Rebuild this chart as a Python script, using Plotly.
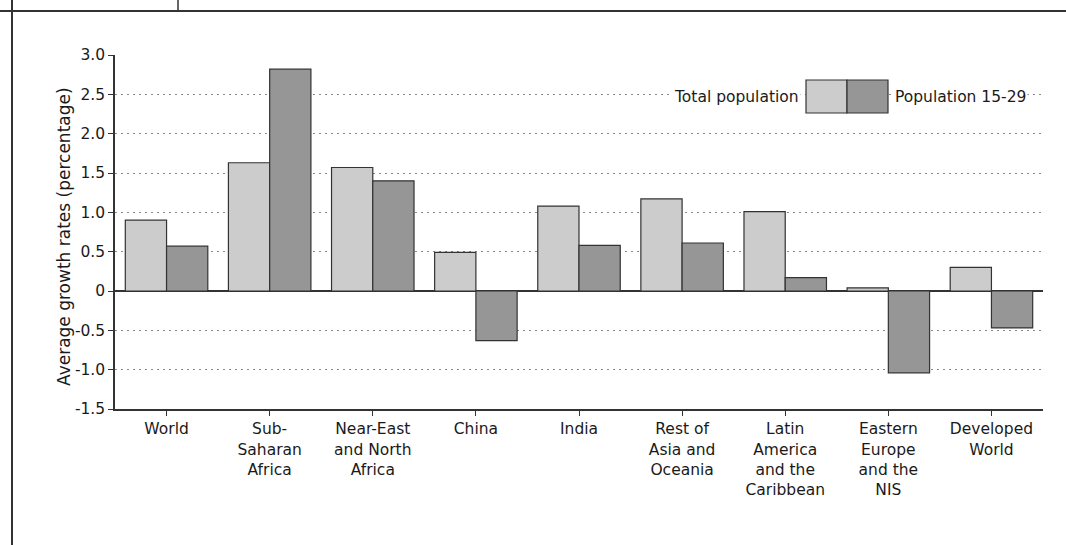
import plotly.graph_objects as go

categories = ["World", "Sub-<br>Saharan<br>Africa", "Near-East<br>and North<br>Africa", "China", "India",
              "Rest of<br>Asia and<br>Oceania", "Latin<br>America<br>and the<br>Caribbean",
              "Eastern<br>Europe<br>and the<br>NIS", "Developed<br>World"]
total_population = [0.90, 1.63, 1.57, 0.49, 1.08, 1.17, 1.01, 0.04, 0.30]
population_15_29 = [0.57, 2.82, 1.40, -0.63, 0.58, 0.61, 0.17, -1.04, -0.47]
y_ticks = [3.0, 2.5, 2.0, 1.5, 1.0, 0.5, 0, -0.5, -1.0, -1.5]
y_tick_text = ["3.0", "2.5", "2.0", "1.5", "1.0", "0.5", "0", "-0.5", "-1.0", "-1.5"]

W, H = 1066, 545
L, R, T, B = 115, 1043, 55, 409
FONT = "DejaVu Sans, Verdana, sans-serif"
TXT = "#1a1a1a"
EDGE = "#333333"
FS = 15.5

def px(x):
    return (x - L) / (R - L)

def py(y):
    return (B - y) / (B - T)

fig = go.Figure()
fig.add_trace(go.Bar(x=list(range(len(categories))), y=total_population, name="Total population",
                     marker=dict(color="#cccccc", line=dict(color=EDGE, width=1.2))))
fig.add_trace(go.Bar(x=list(range(len(categories))), y=population_15_29, name="Population 15-29",
                     marker=dict(color="#969696", line=dict(color=EDGE, width=1.2))))

fig.update_layout(
    width=W, height=H,
    margin=dict(l=L, r=W - R, t=T, b=H - B),
    paper_bgcolor="white", plot_bgcolor="white",
    barmode="group", bargap=0.2, bargroupgap=0,
    showlegend=False,
    font=dict(family=FONT, size=FS, color=TXT),
)
fig.update_xaxes(
    range=[-0.5, len(categories) - 0.5],
    tickvals=list(range(len(categories))), ticktext=categories,
    ticks="outside", ticklen=5, tickcolor=EDGE, tickwidth=1.2,
    showline=True, linecolor=EDGE, linewidth=1.5,
    showgrid=False, zeroline=False,
    tickfont=dict(size=FS, family=FONT, color=TXT),
)
fig.update_yaxes(
    range=[-1.5, 3.0],
    tickvals=y_ticks, ticktext=y_tick_text,
    ticks="outside", ticklen=5, tickcolor=EDGE, tickwidth=1.2,
    showline=True, linecolor=EDGE, linewidth=1.5,
    showgrid=True, gridcolor="#888888", griddash="1.5px,4.5px", gridwidth=1,
    zeroline=True, zerolinecolor=EDGE, zerolinewidth=1.5,
    tickfont=dict(size=FS, family=FONT, color=TXT),
)

# y-axis title
fig.add_annotation(xref="paper", yref="paper", x=px(64), y=py(237), text="Average growth rates (percentage)",
                   textangle=-90, showarrow=False, xanchor="center", yanchor="middle",
                   font=dict(size=17, family=FONT, color=TXT))

# frame lines
fig.add_shape(type="line", xref="paper", yref="paper", x0=px(0), x1=px(W), y0=py(11), y1=py(11),
              line=dict(color=EDGE, width=2))
fig.add_shape(type="line", xref="paper", yref="paper", x0=px(12), x1=px(12), y0=py(0), y1=py(H),
              line=dict(color=EDGE, width=2))
fig.add_shape(type="line", xref="paper", yref="paper", x0=px(178), x1=px(178), y0=py(0), y1=py(11),
              line=dict(color=EDGE, width=1.5))

# legend
fig.add_shape(type="rect", xref="paper", yref="paper", x0=px(806), x1=px(847), y0=py(113), y1=py(80),
              fillcolor="#cccccc", line=dict(color=EDGE, width=1.2))
fig.add_shape(type="rect", xref="paper", yref="paper", x0=px(847), x1=px(888), y0=py(113), y1=py(80),
              fillcolor="#969696", line=dict(color=EDGE, width=1.2))
fig.add_annotation(xref="paper", yref="paper", x=px(801), y=py(97), text="Total population",
                   showarrow=False, xanchor="right", yanchor="middle", bgcolor="white",
                   font=dict(size=FS, family=FONT, color=TXT))
fig.add_annotation(xref="paper", yref="paper", x=px(893), y=py(97), text="Population 15-29",
                   showarrow=False, xanchor="left", yanchor="middle", bgcolor="white",
                   font=dict(size=FS, family=FONT, color=TXT))

fig.write_html("out.html", config={"displayModeBar": False},
               post_script="document.body.style.margin='0';")
